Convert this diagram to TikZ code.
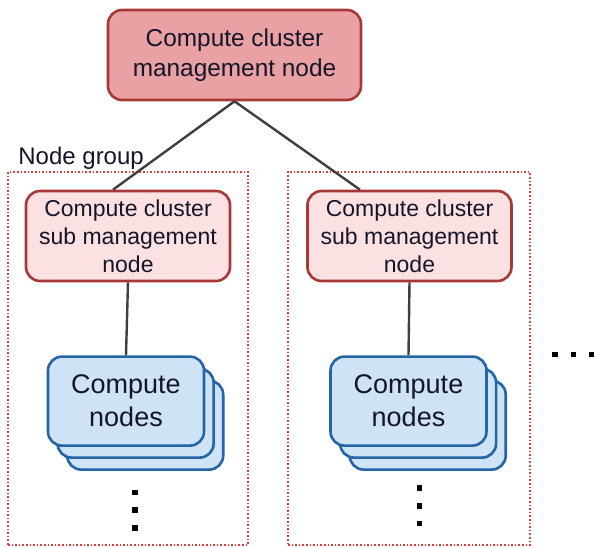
\documentclass[tikz,border=0pt]{standalone}
\usepackage{fontspec}
\setmainfont{Liberation Sans}
\usetikzlibrary{positioning, shadows}

\definecolor{mgmtfill}{HTML}{E9A1A4}
\definecolor{mgmtline}{HTML}{A83838}
\definecolor{subfill}{HTML}{FBE1E1}
\definecolor{cnfill}{HTML}{CFE3F7}
\definecolor{cnline}{HTML}{2565A6}
\definecolor{grpline}{HTML}{E23A3A}
\definecolor{wire}{HTML}{3F3F3F}
\definecolor{ink}{HTML}{15152A}

\tikzset{
	mgmt/.style = {draw=mgmtline, fill=mgmtfill, line width=1.3pt, rounded corners=7pt,
		align=center, minimum width=126.5pt, minimum height=45pt, text=ink,
		font=\fontsize{12.2}{15}\selectfont},
	submgmt/.style = {draw=mgmtline, fill=subfill, line width=1.3pt, rounded corners=7pt,
		align=center, minimum width=102pt, minimum height=45pt, inner sep=1pt, text=ink,
		font=\fontsize{11.5}{14}\selectfont},
	compute/.style = {draw=cnline, fill=cnfill, line width=1.3pt, rounded corners=7pt,
		align=center, minimum width=78pt, minimum height=44.5pt, text=ink,
		font=\fontsize{13.5}{16.5}\selectfont,
		double copy shadow={shadow xshift=4.8pt, shadow yshift=-6pt,
			fill=cnfill, draw=cnline, line width=1.3pt}},
	grp/.style = {draw=grpline, densely dotted, line width=0.8pt, minimum height=186.5pt},
	wire/.style = {draw=wire, line width=1.2pt},
	dot/.style = {fill=black, minimum size=2.6pt, inner sep=0pt}
}

\begin{document}
\begin{tikzpicture}[x=0.5pt, y=-0.5pt]
		\useasboundingbox (0,0) rectangle (594,547);

		% node groups
		\node [grp, minimum width=120pt] (grpL) at (128,358.5) {};
		\node [grp, minimum width=121pt] (grpR) at (409,358.5) {};
		\node [anchor=base west, inner sep=0pt, text=ink, font=\fontsize{12}{14}\selectfont] (grplabel) at (18,164) {Node group};

		\node [mgmt] (top) at (234.5,55) {Compute cluster\\management node};
		\node [submgmt] (subL) at (128,236) {Compute cluster\\sub management\\node};
		\node [submgmt] (subR) at (409.5,236) {Compute cluster\\sub management\\node};
		\node [compute, below = 36.5pt of subL.south, anchor=north, xshift=-1pt] (cnL) {Compute\\nodes};
		\node [compute, below = 36.5pt of subR.south, anchor=north, xshift=-0.5pt] (cnR) {Compute\\nodes};

		\path [wire]
		(top.south) -- ([xshift=-7.5pt]subL.north)
		(top.south) -- ([xshift=-24.75pt]subR.north)
		(subL.south) -- (cnL.north)
		(subR.south) -- (cnR.north);

		% more nodes
		\foreach \y in {492.5,510,528} \node [dot] at (135,\y) {};
		\foreach \y in {488,506,523.5} \node [dot] at (419.5,\y) {};
		\foreach \x in {555,573.5,592} \node [dot] at (\x,354.5) {};

	\end{tikzpicture}
\end{document}
